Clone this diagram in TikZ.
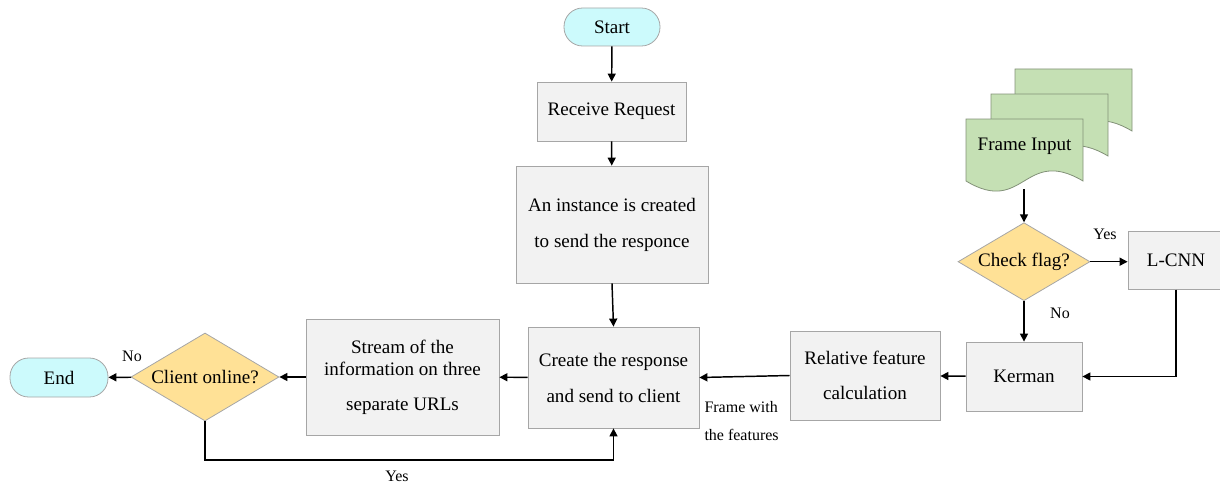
\documentclass[tikz,border=0pt]{standalone}
\usepackage{fontspec}
\setmainfont{Liberation Serif}
\usetikzlibrary{shapes.geometric,arrows.meta}

\definecolor{boxfill}{RGB}{242,242,242}
\definecolor{boxline}{RGB}{166,166,166}
\definecolor{termfill}{RGB}{204,250,252}
\definecolor{decfill}{RGB}{255,225,150}
\definecolor{docfill}{RGB}{197,224,180}
\definecolor{docline}{RGB}{130,145,120}

\tikzset{every picture/.style={line width=0.75pt}}
\tikzset{
  procbox/.style={draw=boxline, fill=boxfill, line width=0.6pt, align=center, inner sep=0pt,
    font=\fontsize{14.3}{27}\selectfont},
  termbox/.style={draw=boxline, fill=termfill, line width=0.6pt, rounded corners=14pt, inner sep=0pt,
    font=\fontsize{14.3}{17}\selectfont},
  decbox/.style={diamond, draw=boxline, fill=decfill, line width=0.6pt, inner sep=0pt,
    font=\fontsize{14.3}{17}\selectfont},
  smalltext/.style={inner sep=0.75pt, font=\fontsize{12}{21}\selectfont},
  flowline/.style={line width=1.1pt, -{Triangle[length=6pt,width=6pt]}},
}

\newcommand{\docshape}[2]{% left x, top y
  \draw [docline, fill=docfill, line width=0.6pt] (#1,#2) -- (#1+117,#2) -- (#1+117,#2+62)
    .. controls (#1+58,#2+62-35) and (#1+58,#2+62+35) .. (#1,#2+62) -- cycle;
}

\begin{document}
\begin{tikzpicture}[x=0.75pt,y=0.75pt,yscale=-1,xscale=1]
\useasboundingbox (0,0) rectangle (1220,485);

% Frame input stack
\docshape{1015}{69}
\docshape{991}{94}
\docshape{966}{119}
\node [font=\fontsize{14.3}{17}\selectfont] (frame) at (1024.5,146) {Frame Input};
\coordinate (framebot) at (1024,189);

% Nodes
\node [termbox, minimum width=72pt, minimum height=28.5pt] (start) at (612,27) {Start};
\node [procbox, minimum width=111.75pt, minimum height=44.25pt] (recv) at (611.5,111.5) {\raisebox{-3pt}{Receive Request}};
\node [procbox, minimum width=144pt, minimum height=87.75pt] (inst) at (612,224.5) {An instance is created\\to send the responce};
\node [procbox, minimum width=128.25pt, minimum height=75.75pt] (create) at (613.5,377.5) {Create the response\\and send to client};
\node [procbox, minimum width=144.75pt, minimum height=87pt, font=\fontsize{14.3}{16.5}\selectfont] (stream) at (402.5,377) {Stream of the\\information on three\\[10pt]separate URLs};
\node [decbox, minimum width=111pt, minimum height=66pt] (client) at (205,377) {\makebox[0pt]{Client online?}};
\node [termbox, minimum width=73.5pt, minimum height=29.25pt] (end) at (59,377.5) {End};
\node [procbox, minimum width=112.5pt, minimum height=66.75pt, font=\fontsize{14.3}{26}\selectfont] (relf) at (865,375.5) {Relative feature\\calculation};
\node [procbox, minimum width=87pt, minimum height=51.75pt] (kerman) at (1024,376.5) {Kerman};
\node [procbox, minimum width=72pt, minimum height=43pt] (lcnn) at (1176,260.5) {L-CNN};
\node [decbox, minimum width=99pt, minimum height=58.5pt] (check) at (1024,261.7) {\makebox[0pt]{Check flag?}};

% Connectors
\draw [flowline] (start) -- (recv);
\draw [flowline] (recv) -- (inst);
\draw [flowline] (inst.south) -- (create.north);
\draw [flowline] (create) -- (stream);
\draw [flowline] (stream) -- (client);
\draw [flowline] (client) -- (end);
\draw [flowline] (framebot) -- (check.north);
\draw [flowline] (check.east) -- (check.east -| lcnn.west);
\draw [flowline] (check.south) -- (kerman.north);
\draw [flowline] (lcnn.south) |- (kerman.east);
\draw [flowline] (kerman) -- (relf);
\draw [flowline] (relf.west) -- (create.east);
\coordinate (yesloop) at (400,460);
\draw [flowline] (client.south) -- (client.south |- yesloop) -| (create.south);

% Labels
\node [smalltext] (lblyes1) at (1105,234) {Yes};
\node [smalltext] (lblno1) at (1060,313) {No};
\node [smalltext] (lblno2) at (132,356) {No};
\node [smalltext] (lblyes2) at (397,476) {Yes};
\node [smalltext, align=left, anchor=west] (lblframe) at (703,421) {Frame with\\the features};

\end{tikzpicture}
\end{document}
